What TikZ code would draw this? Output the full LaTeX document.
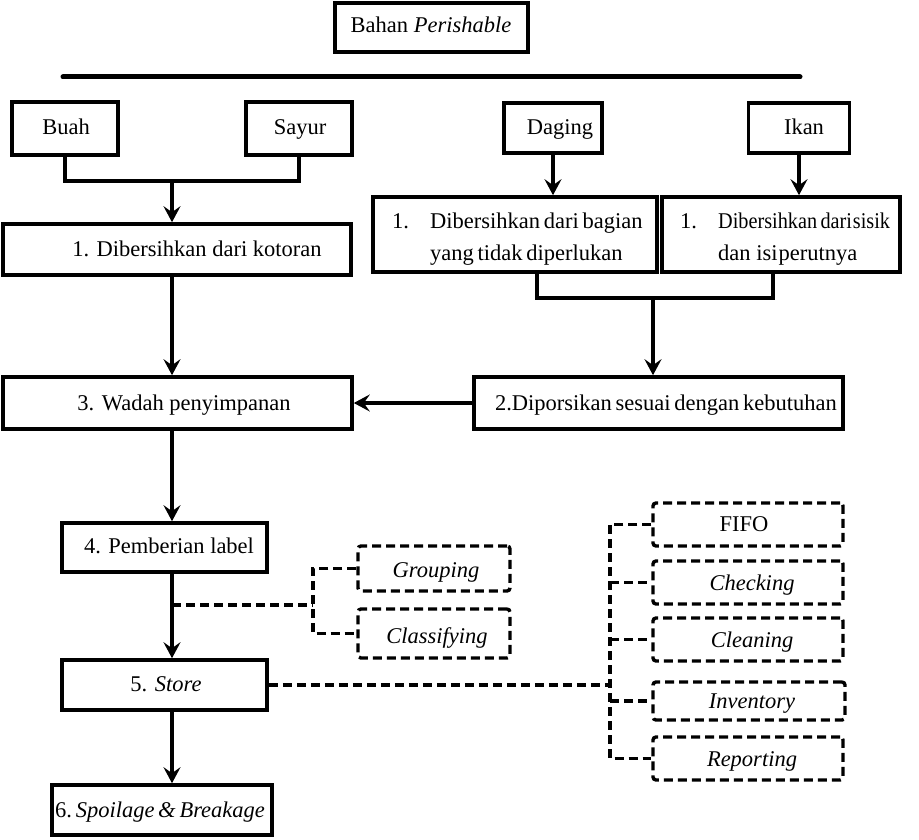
\documentclass[tikz,border=0pt]{standalone}
\usepackage{fontspec}
\setmainfont{Liberation Serif}
\usetikzlibrary{arrows.meta}
\newcommand\fs{\fontsize{22.5}{31}\selectfont}
\begin{document}
\begin{tikzpicture}[x=1pt,y=-1pt,
  box/.style={draw, line width=3.6pt, inner sep=0pt},
  dbox/.style={draw, line width=3.4pt, dash pattern=on 9pt off 5pt, rounded corners=3pt, inner sep=0pt},
  txt/.style={inner sep=0pt, font=\fs, anchor=base},
  txtw/.style={inner sep=0pt, font=\fs, anchor=base west},
  arr/.style={line width=3.4pt, -{Stealth[length=16pt,width=17pt,inset=6pt]}},
  conn/.style={line width=3.4pt},
  dline/.style={line width=3.4pt, dash pattern=on 9pt off 5pt}]
\useasboundingbox (0,0) rectangle (919,840);
% top
\node[box, minimum width=193, minimum height=49] (top) at (431.5,27.5) {};
\node[txt] (ttop) at (431,33) {Bahan \textit{Perishable}};
\coordinate (L1) at (63,77);
\coordinate (L2) at (800,77);
\draw[line width=5pt, line cap=round] (L1) -- (L2);
% row 1
\node[box, minimum width=106, minimum height=53] (buah) at (65,128.5) {};
\node[txt] (tbuah) at (66,135) {Buah};
\node[box, minimum width=106, minimum height=53] (sayur) at (299,128.5) {};
\node[txt] (tsayur) at (300,135) {Sayur};
\node[box, minimum width=98, minimum height=50] (daging) at (553,128) {};
\node[txt] (tdaging) at (560,135) {Daging};
\node[box, minimum width=101, minimum height=50] (ikan) at (799,128) {};
\node[txt] (tikan) at (804,135) {Ikan};
% row 2
\node[box, minimum width=348, minimum height=51] (b1) at (177,249.5) {};
\node[txt] (tb1) at (197,256) {1. Dibersihkan dari kotoran};
\node[box, minimum width=284, minimum height=75] (bd) at (515,234.5) {};
\node[txtw] (tbd0) at (392,229) {1.};
\node[txtw] (tbd1) at (430,229) {Dibersihkan\,dari\,bagian};
\node[txtw] (tbd2) at (430,260) {yang\,tidak\,diperlukan};
\node[box, minimum width=238, minimum height=75] (bi) at (781,234.5) {};
\node[txtw] (tbi0) at (680,229) {1.};
\node[txtw] (tbi1) at (718,229) {\scalebox{0.9}[1]{Dibersihkan\,dari\kern1pt sisik}};
\node[txtw] (tbi2) at (718,260) {dan isi\kern1pt perutnya};
% row 3
\node[box, minimum width=369, minimum height=52] (b2) at (658.5,403) {};
\node[txt] (tb2) at (666,410) {2.Diporsikan\,sesuai\,dengan\,kebutuhan};
\node[box, minimum width=349, minimum height=52] (b3) at (177.5,403) {};
\node[txt] (tb3) at (184,410) {3. Wadah penyimpanan};
% left column
\node[box, minimum width=205, minimum height=49] (b4) at (164.5,547.5) {};
\node[txt] (tb4) at (169,553) {4. Pemberian label};
\node[box, minimum width=205, minimum height=50] (b5) at (164.5,685) {};
\node[txt] (tb5) at (166,691) {5. \textit{Store}};
\node[box, minimum width=220, minimum height=50] (b6) at (162,810) {};
\node[txt] (tb6) at (160,817) {6.\,\textit{Spoilage\,\&\,Breakage}};
% dashed middle
\node[dbox, minimum width=152, minimum height=45] (grp) at (434,568.5) {};
\node[txt] (tgrp) at (436,577) {\textit{Grouping}};
\node[dbox, minimum width=152, minimum height=49] (cls) at (434,633.5) {};
\node[txt] (tcls) at (437,643) {\textit{Classifying}};
% dashed right
\node[dbox, minimum width=190, minimum height=43] (fifo) at (748,524.5) {};
\node[txt] (tfifo) at (744,531) {FIFO};
\node[dbox, minimum width=190, minimum height=43] (chk) at (748,582.5) {};
\node[txt] (tchk) at (752,590) {\textit{Checking}};
\node[dbox, minimum width=190, minimum height=43] (cln) at (748,639.5) {};
\node[txt] (tcln) at (752,647) {\textit{Cleaning}};
\node[dbox, minimum width=192, minimum height=38] (inv) at (749,701) {};
\node[txt] (tinv) at (752,708) {\textit{Inventory}};
\node[dbox, minimum width=190, minimum height=43] (rep) at (748,758.5) {};
\node[txt] (trep) at (752,766) {\textit{Reporting}};
% connectors
\coordinate (ax) at (172,0);
\coordinate (j1) at (172,181);
\draw[conn] (buah.south) -- (buah.south |- j1) -- (sayur.south |- j1) -- (sayur.south);
\draw[arr] (j1) -- (j1 |- b1.north);
\draw[arr] (daging.south) -- (daging.south |- bd.north);
\draw[arr] (ikan.south) -- (ikan.south |- bi.north);
\coordinate (j2a) at (537,298);
\coordinate (j2b) at (773,298);
\coordinate (j2) at (653,298);
\draw[conn] (j2a |- bd.south) -- (j2a) -- (j2b) -- (j2b |- bi.south);
\draw[arr] (j2) -- (j2 |- b2.north);
\draw[arr] (b2.west) -- (b3.east);
\draw[arr] (ax |- b1.south) -- (ax |- b3.north);
\draw[arr] (ax |- b3.south) -- (ax |- b4.north);
\draw[arr] (ax |- b4.south) -- (ax |- b5.north);
\draw[arr] (ax |- b5.south) -- (ax |- b6.north);
% dashed connectors
\coordinate (d1) at (172,605);
\coordinate (vx) at (313,0);
\draw[dline] (grp.west) -- (grp.west -| vx) -- (cls.west -| vx) -- (cls.west);
\draw[dline] (d1) -- (d1 -| vx);
\coordinate (v) at (610,0);
\draw[dline] (fifo.west) -- (fifo.west -| v) -- (rep.west -| v) -- (rep.west);
\draw[dline] (chk.west -| v) -- (chk.west);
\draw[dline] (cln.west -| v) -- (cln.west);
\draw[dline] (inv.west -| v) -- (inv.west);
\draw[dline] (b5.east) -- (b5.east -| v);
\end{tikzpicture}
\end{document}
